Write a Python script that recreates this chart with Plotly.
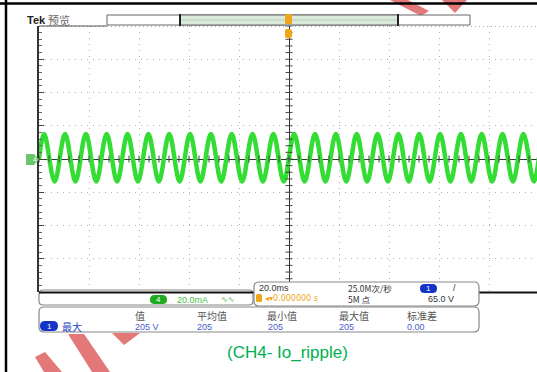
import plotly.graph_objects as go

W, H = 537, 372

# ---- data: CH4 output-current ripple, read at the extremes of each half cycle ----
t_ms = [-100.0, -97.92, -93.75, -89.58, -85.42, -81.25, -77.08, -72.92, -68.75, -64.58,
        -60.42, -56.25, -52.08, -47.92, -43.75, -39.58, -35.42, -31.25, -27.08, -22.92,
        -18.75, -14.58, -10.42, -6.25, -2.08, 2.08, 6.25, 10.42, 14.58, 18.75,
        22.92, 27.08, 31.25, 35.42, 39.58, 43.75, 47.92, 52.08, 56.25, 60.42,
        64.58, 68.75, 72.92, 77.08, 81.25, 85.42, 89.58, 93.75, 97.92, 100.0]
i_mA = [0.0, 15.0, -13.5, 15.0, -13.5, 15.0, -13.5, 15.0, -13.5, 15.0,
        -13.5, 15.0, -13.5, 15.0, -13.5, 15.0, -13.5, 15.0, -13.5, 15.0,
        -13.5, 15.0, -13.5, 15.0, -13.5, 15.0, -13.5, 15.0, -13.5, 15.0,
        -13.5, 15.0, -13.5, 15.0, -13.5, 15.0, -13.5, 15.0, -13.5, 15.0,
        -13.5, 15.0, -13.5, 15.0, -13.5, 15.0, -13.5, 15.0, -13.5, 1.0]

headers = ["值", "平均值", "最小值", "最大值", "标准差"]
meas_values = ["205 V", "205", "205", "205", "0.00"]
caption = "(CH4- Io_ripple)"

# ---- pixel helpers (paper coordinates) ----
def X(p):
    return p / W

def Y(p):
    return 1 - p / H

def rrect(x0, y0, x1, y1, r):
    return (f"M {X(x0+r)},{Y(y0)} L {X(x1-r)},{Y(y0)} Q {X(x1)},{Y(y0)} {X(x1)},{Y(y0+r)} "
            f"L {X(x1)},{Y(y1-r)} Q {X(x1)},{Y(y1)} {X(x1-r)},{Y(y1)} "
            f"L {X(x0+r)},{Y(y1)} Q {X(x0)},{Y(y1)} {X(x0)},{Y(y1-r)} "
            f"L {X(x0)},{Y(y0+r)} Q {X(x0)},{Y(y0)} {X(x0+r)},{Y(y0)} Z")

def poly(pts):
    return "M " + " L ".join(f"{X(a)},{Y(b)}" for a, b in pts) + " Z"

fig = go.Figure()

fig.add_trace(go.Scatter(x=t_ms, y=i_mA, mode="lines",
                         line=dict(color="#33dd33", width=4.5, shape="spline", smoothing=1.0),
                         hoverinfo="skip", showlegend=False))

# centre-line minor ticks
fig.add_trace(go.Scatter(x=list(range(-100, 101, 4)), y=[0] * 51, mode="markers",
                         marker=dict(symbol="line-ns-open", size=5, color="#444",
                                     line=dict(color="#444", width=1)),
                         hoverinfo="skip", showlegend=False))
fig.add_trace(go.Scatter(x=[0] * 41, y=list(range(-80, 81, 4)), mode="markers",
                         marker=dict(symbol="line-ew-open", size=5, color="#444",
                                     line=dict(color="#444", width=1)),
                         hoverinfo="skip", showlegend=False))

x_left_px, y_top_px, y_bot_px = 39, 26, 292
xr_end = -100 + (W - x_left_px) / 2.5

fig.update_layout(
    width=W, height=H, margin=dict(l=0, r=0, t=0, b=0),
    paper_bgcolor="white", plot_bgcolor="white", showlegend=False,
    xaxis=dict(domain=[X(x_left_px), 1], range=[-100, xr_end], dtick=20, tick0=-100,
               showticklabels=False, showgrid=True, gridcolor="#b0b0b0", griddash="1px,5px",
               zeroline=True, zerolinecolor="#333", zerolinewidth=1, showline=False, fixedrange=True),
    yaxis=dict(domain=[Y(y_bot_px), Y(y_top_px)], range=[-80, 80], dtick=20,
               showticklabels=False, showgrid=True, gridcolor="#b0b0b0", griddash="1px,5px",
               zeroline=True, zerolinecolor="#333", zerolinewidth=1,
               showline=True, linecolor="#333", linewidth=1.5,
               ticks="inside", ticklen=5, tickcolor="#444",
               minor=dict(dtick=4, ticks="inside", ticklen=3, tickcolor="#666"), fixedrange=True),
)

shapes = []
red = "#e27878"
# watermark arrows
shapes.append(dict(type="path", xref="paper", yref="paper", layer="above",
                   path=poly([(390, 0), (408, 0), (429, 11), (421, 16)]), fillcolor=red, line=dict(width=0)))
shapes.append(dict(type="path", xref="paper", yref="paper", layer="above",
                   path=poly([(442, 0), (467, 0), (455, 13)]), fillcolor=red, line=dict(width=0)))
shapes.append(dict(type="path", xref="paper", yref="paper", layer="above",
                   path=poly([(68, 334), (84, 334), (110, 372), (92, 372)]), fillcolor=red, line=dict(width=0)))
shapes.append(dict(type="path", xref="paper", yref="paper", layer="above",
                   path=poly([(35, 357), (45, 352), (62, 372), (44, 372)]), fillcolor=red, line=dict(width=0)))
shapes.append(dict(type="path", xref="paper", yref="paper", layer="above",
                   path=poly([(112, 333), (140, 333), (124, 345)]), fillcolor=red, line=dict(width=0)))

# outer frame
shapes.append(dict(type="line", xref="paper", yref="paper", x0=0, x1=1, y0=Y(3.5), y1=Y(3.5),
                   line=dict(color="black", width=2.5)))
shapes.append(dict(type="line", xref="paper", yref="paper", x0=X(6), x1=X(6), y0=0, y1=1,
                   line=dict(color="black", width=2.5)))
# graticule top border (dotted) and short solid piece
shapes.append(dict(type="line", xref="paper", yref="paper", x0=X(39), x1=1, y0=Y(26.5), y1=Y(26.5),
                   line=dict(color="#aaa", width=1, dash="1px,3px")))
shapes.append(dict(type="line", xref="paper", yref="paper", x0=X(39), x1=X(107), y0=Y(26), y1=Y(26),
                   line=dict(color="#555", width=1)))

# record bar
shapes.append(dict(type="rect", xref="paper", yref="paper", x0=X(107), x1=X(470), y0=Y(25), y1=Y(15),
                   fillcolor="white", line=dict(color="#666", width=1)))
shapes.append(dict(type="rect", xref="paper", yref="paper", x0=X(180), x1=X(398), y0=Y(25), y1=Y(15),
                   fillcolor="#d9e9da", line=dict(color="#666", width=1)))
for xx in (180, 398):
    shapes.append(dict(type="line", xref="paper", yref="paper", x0=X(xx), x1=X(xx), y0=Y(26), y1=Y(14),
                       line=dict(color="#222", width=2)))
shapes.append(dict(type="line", xref="paper", yref="paper", x0=X(181), x1=X(397), y0=Y(20), y1=Y(20),
                   line=dict(color="#b9cfba", width=1)))
# trigger markers
shapes.append(dict(type="path", xref="paper", yref="paper",
                   path=rrect(285, 14, 292, 24, 1.5), fillcolor="#f0a418", line=dict(width=0)))
shapes.append(dict(type="path", xref="paper", yref="paper",
                   path=rrect(285, 29, 292, 38, 2), fillcolor="#f0a418", line=dict(width=0)))

# channel 4 ground marker on the left
shapes.append(dict(type="path", xref="paper", yref="paper",
                   path=poly([(26, 154), (34, 154), (39, 159.5), (34, 165), (26, 165)]),
                   fillcolor="#68c868", line=dict(width=0)))

# bottom border of graticule
shapes.append(dict(type="line", xref="paper", yref="paper", x0=X(39), x1=1, y0=Y(292.5), y1=Y(292.5),
                   line=dict(color="#111", width=2.2)))
# readout boxes
shapes.append(dict(type="path", xref="paper", yref="paper", path=rrect(39, 290, 253, 305, 4),
                   fillcolor="white", line=dict(color="#888", width=1.2)))
shapes.append(dict(type="line", xref="paper", yref="paper", x0=X(39), x1=X(253), y0=Y(292.5), y1=Y(292.5),
                   line=dict(color="#111", width=2.2)))
shapes.append(dict(type="path", xref="paper", yref="paper", path=rrect(254, 282, 479, 306, 5),
                   fillcolor="white", line=dict(color="#888", width=1.2)))
shapes.append(dict(type="path", xref="paper", yref="paper", path=rrect(39, 307, 479, 332, 5),
                   fillcolor="white", line=dict(color="#888", width=1.2)))

# badges
shapes.append(dict(type="path", xref="paper", yref="paper", path=rrect(150, 295, 167, 304, 4.5),
                   fillcolor="#20aa20", line=dict(width=0)))
shapes.append(dict(type="path", xref="paper", yref="paper", path=rrect(420, 284, 437, 293, 4.5),
                   fillcolor="#1434c8", line=dict(width=0)))
shapes.append(dict(type="path", xref="paper", yref="paper", path=rrect(40, 321, 58, 331, 5),
                   fillcolor="#1434c8", line=dict(width=0)))
shapes.append(dict(type="path", xref="paper", yref="paper", path=rrect(256, 294, 262, 302, 1.5),
                   fillcolor="#f0a418", line=dict(width=0)))

fig.update_layout(shapes=shapes)

SANS = "Liberation Sans, Arial, sans-serif"
CJK = "Noto Sans CJK SC, sans-serif"
ann = []

def txt(x, y, s, size, color, font=SANS, xanchor="left"):
    ann.append(dict(xref="paper", yref="paper", x=X(x), y=Y(y), text=s, showarrow=False,
                    xanchor=xanchor, yanchor="middle", font=dict(family=font, size=size, color=color)))

txt(25, 20, "<b>Tek</b>", 11, "#222")
txt(46, 20, "预览", 11, "#666", CJK)
txt(30.5, 159.5, "4", 7, "white")
txt(158.5, 299.5, "4", 8, "white", xanchor="center")
txt(175, 299.5, "20.0mA", 9, "#44bb44")
txt(219, 299.5, "∿∿", 8, "#44bb44", "DejaVu Sans")
txt(257, 288, "20.0ms", 9, "#333")
txt(263, 298.5, "◂▾0.000000 s", 8, "#f0a418", "DejaVu Sans")
txt(346, 288, "25.0M次/秒", 8.5, "#333", CJK)
txt(346, 299, "5M 点", 8.5, "#333", CJK)
txt(428.5, 288.5, "1", 8, "white", xanchor="center")
txt(451, 288, "/", 9, "#333")
txt(426, 299, "65.0 V", 9, "#333")

hx = [133, 195, 265, 337, 405]
for x, h in zip(hx, headers):
    txt(x, 315, h, 10, "#555", CJK)
for x, v in zip([133, 195, 266, 337, 405], meas_values):
    txt(x, 326.5, v, 9, "#4a5ccc")
txt(49, 326, "1", 8, "white", xanchor="center")
txt(60, 326, "最大", 10, "#2a3fc8", CJK)

txt(287, 352, caption, 17, "#00b050", xanchor="center")

fig.update_layout(annotations=ann)
fig.write_html("out.html", config={"displayModeBar": False},
               post_script="document.body.style.margin='0';document.body.style.overflow='hidden';")
